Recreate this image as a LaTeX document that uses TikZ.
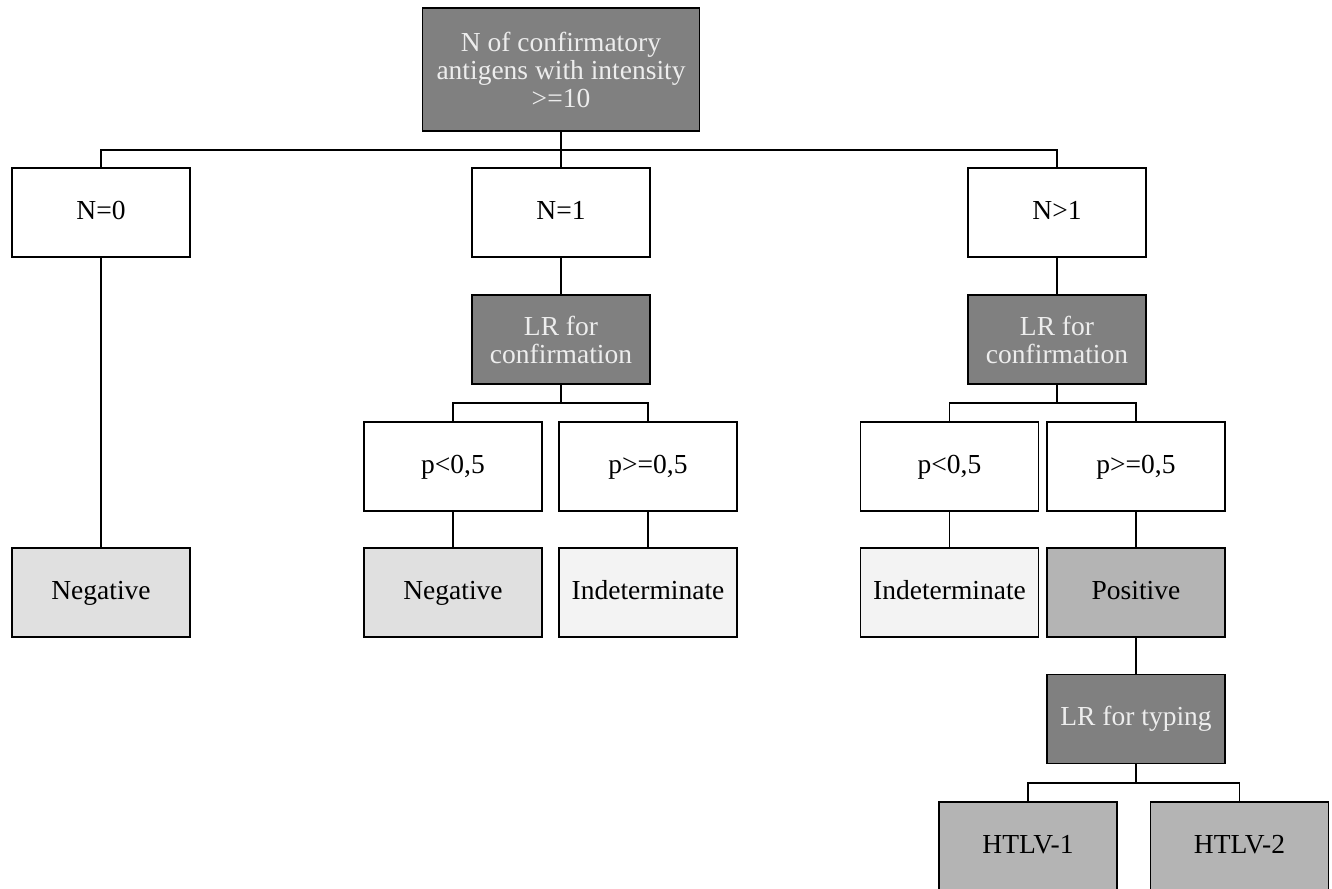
\documentclass[tikz,border=0pt]{standalone}
\usepackage{fontspec}
\setmainfont{Liberation Serif}

\definecolor{darkbox}{RGB}{128,128,128}
\definecolor{midbox}{RGB}{180,180,180}
\definecolor{negbox}{RGB}{224,224,224}
\definecolor{indbox}{RGB}{243,243,243}

\tikzset{
    box/.style={draw, line width=1.3pt, minimum width=178pt, minimum height=89pt, align=center, inner sep=2pt, font=\fontsize{27.5}{28}\selectfont},
    onebox/.style={box, text height=19pt, text depth=6pt},
    lrbox/.style={box, fill=darkbox, text=white!93!black},
    link/.style={line width=1.3pt}
}

\begin{document}
\begin{tikzpicture}[x=1pt, y=1pt]
    \useasboundingbox (0,0) rectangle (1332,-888);

    % Draw root
    \node[lrbox, minimum width=277pt, minimum height=123pt] (root) at (561,-69.5) {N of confirmatory\\antigens with intensity\\>=10};

    % Draw count nodes
    \node[onebox] (n0) at (101,-212.5) {N=0};
    \node[onebox] (n1) at (561,-212.5) {N=1};
    \node[onebox] (n2) at (1057,-212.5) {N>1};

    % Draw LR nodes
    \node[lrbox] (lrone) at (561,-339.5) {LR for\\confirmation};
    \node[lrbox] (lrtwo) at (1057,-339.5) {LR for\\confirmation};

    % Draw probability nodes
    \node[onebox] (p1) at (453,-466.5) {p<0,5};
    \node[onebox] (p2) at (648,-466.5) {p>=0,5};
    \node[onebox] (p3) at (949.5,-466.5) {p<0,5};
    \node[onebox] (p4) at (1136,-466.5) {p>=0,5};

    % Draw results
    \node[onebox, fill=negbox] (neg0) at (101,-592.5) {Negative};
    \node[onebox, fill=negbox] (neg1) at (453,-592.5) {Negative};
    \node[onebox, fill=indbox] (ind1) at (648,-592.5) {Indeterminate};
    \node[onebox, fill=indbox] (ind2) at (949.5,-592.5) {Indeterminate};
    \node[onebox, fill=midbox] (pos) at (1136,-592.5) {Positive};

    % Draw typing
    \node[lrbox, onebox] (typing) at (1136,-719) {LR for typing};
    \node[onebox, fill=midbox] (htlv1) at (1028,-846.5) {HTLV-1};
    \node[onebox, fill=midbox] (htlv2) at (1239.5,-846.5) {HTLV-2};

    % Draw bus points
    \coordinate (busa) at (561,-150);
    \coordinate (busb) at (561,-403);
    \coordinate (busc) at (1057,-403);
    \coordinate (busd) at (1136,-783);

    % Draw links
    \draw[link] (root.south) -- (busa);
    \draw[link] (n0.north) |- (busa) -| (n2.north);
    \draw[link] (busa) -- (n1.north);

    \draw[link] (n0.south) -- (neg0.north);
    \draw[link] (n1.south) -- (lrone.north);
    \draw[link] (n2.south) -- (lrtwo.north);

    \draw[link] (lrone.south) -- (busb);
    \draw[link] (p1.north) |- (busb) -| (p2.north);
    \draw[link] (lrtwo.south) -- (busc);
    \draw[link] (p3.north) |- (busc) -| (p4.north);

    \draw[link] (p1.south) -- (neg1.north);
    \draw[link] (p2.south) -- (ind1.north);
    \draw[link] (p3.south) -- (ind2.north);
    \draw[link] (p4.south) -- (pos.north);

    \draw[link] (pos.south) -- (typing.north);
    \draw[link] (typing.south) -- (busd);
    \draw[link] (htlv1.north) |- (busd) -| (htlv2.north);
\end{tikzpicture}
\end{document}
